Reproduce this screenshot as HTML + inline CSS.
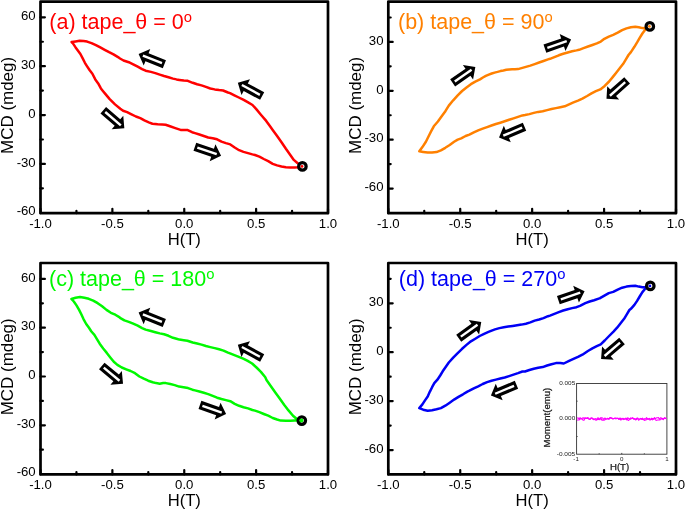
<!DOCTYPE html><html><head><meta charset="utf-8"><style>html,body{margin:0;padding:0;background:#fff;width:685px;height:510px;overflow:hidden}svg{display:block;will-change:transform}text{font-family:"Liberation Sans",sans-serif}</style></head><body>
<svg width="685" height="510" viewBox="0 0 685 510">
<rect width="685" height="510" fill="#fff"/>
<path d="M302.2 166.3 L297.4 163 L293.8 159.9 L290.3 155 L285.9 148.8 L281.5 142.2 L277.1 136 L272.7 129.9 L269.7 125.7 L266.2 120.9 L260.9 114.7 L256.5 109.4 L252.5 105 L247.7 102.2 L243.2 99.7 L238.8 97.5 L234.4 95.3 L230 93.1 L228 92.5 L223.1 90.5 L219.1 90.1 L214.7 89.4 L210.3 88.5 L205.9 86.9 L201.5 85.4 L197.1 84.3 L192.7 82.8 L187.8 80.8 L183.8 80.6 L179.4 79.9 L176.5 79.4 L173 78.6 L168.5 77.2 L164.1 76 L159.7 74.6 L155.3 73.1 L150.9 71.9 L145.6 70.7 L142.1 69.1 L137.7 66.7 L133.2 64.3 L128.8 62.2 L123.5 60.5 L120 58.5 L118 57.1 L113.5 54.4 L109.1 52.2 L104.7 49.8 L100.3 47.4 L95.9 45.1 L91.5 43.1 L87.1 41.6 L83.5 41 L79.6 40.7 L75.6 41.4 L71.6 42.1 L72.9 43.4 L75.6 47.4 L78.2 50.9 L80.4 54 L82.7 58.4 L84.9 62.8 L87.1 66.3 L89.7 70.3 L92.4 73.8 L95.3 79.4 L98.2 83.4 L100.9 88.4 L103.1 91.2 L105.3 93.9 L109.7 99.1 L115 104.4 L120.3 108.8 L123.1 110.7 L127.1 112.1 L131.5 114.3 L135.9 116.5 L140.3 118.2 L144.4 120.4 L148.8 122.4 L152.4 123.7 L157.7 124.3 L162.1 124.6 L165.6 124.8 L170 126.3 L175.3 128.1 L180.6 129.9 L184.1 129.9 L187.7 130.1 L192.1 132.2 L195 133.1 L199.4 134.5 L203.8 136 L208.2 137.5 L212.7 138.2 L217.1 139.3 L221.5 141.6 L225.9 143.1 L230.3 144.4 L234.7 147.5 L239.1 150.2 L243.5 151.9 L248 153.1 L252.4 154.4 L255 155 L259.4 156.6 L263.8 159 L268.2 161.2 L272.7 163.8 L277.1 165.4 L281.5 166.5 L285.9 167.2 L290.3 167.4 L294.7 167.4 L298.2 167.2 L302.2 166.3" fill="none" stroke="#ff0000" stroke-width="2.5" stroke-linejoin="round" stroke-linecap="round"/>
<path d="M40.5 213.2V208.8M76.44 213.2V210.8M112.38 213.2V208.8M148.31 213.2V210.8M184.25 213.2V208.8M220.19 213.2V210.8M256.12 213.2V208.8M292.06 213.2V210.8M328 213.2V208.8M40.5 188.37H42.9M40.5 163.93H44.9M40.5 139.49H42.9M40.5 115.05H44.9M40.5 90.61H42.9M40.5 66.17H44.9M40.5 41.73H42.9M40.5 17.29H44.9" stroke="#000" stroke-width="2.2" stroke-linecap="round" fill="none"/>
<rect x="40.5" y="1.6" width="287.5" height="211.6" fill="none" stroke="#000" stroke-width="2.7" stroke-linejoin="round"/>
<text x="40.5" y="228.1" font-size="13.2" text-anchor="middle">-1.0</text>
<text x="112.38" y="228.1" font-size="13.2" text-anchor="middle">-0.5</text>
<text x="184.25" y="228.1" font-size="13.2" text-anchor="middle">0.0</text>
<text x="256.12" y="228.1" font-size="13.2" text-anchor="middle">0.5</text>
<text x="328" y="228.1" font-size="13.2" text-anchor="middle">1.0</text>
<text x="35.7" y="214.71" font-size="13.2" text-anchor="end">-60</text>
<text x="35.7" y="166.63" font-size="13.2" text-anchor="end">-30</text>
<text x="35.7" y="117.75" font-size="13.2" text-anchor="end">0</text>
<text x="35.7" y="68.87" font-size="13.2" text-anchor="end">30</text>
<text x="35.7" y="19.99" font-size="13.2" text-anchor="end">60</text>
<text x="184.25" y="244.65" font-size="16.6" text-anchor="middle">H(T)</text>
<text transform="translate(12.9 105.4) rotate(-90)" font-size="16.4" text-anchor="middle" textLength="97" lengthAdjust="spacingAndGlyphs">MCD (mdeg)</text>
<circle cx="302.4" cy="166.4" r="3.75" fill="#fff" stroke="#000" stroke-width="3.2"/>
<circle cx="302" cy="166.4" r="1.4" fill="#ff0000"/>
<text x="49.3" y="29.1" font-size="21.5" fill="#ff0000">(a) tape_θ = 0<tspan font-size="14.8" dy="-7.0">o</tspan></text>
<path d="M649.9 26.5 L645 28.2 L642.4 28.1 L638.8 27.2 L635.3 26.7 L630.9 27.2 L626.5 28.4 L622.1 30.2 L617.7 32.7 L613.2 34.9 L608.8 36.6 L604.4 38.8 L600.8 41.6 L596.8 43.4 L592.4 45 L588 46.5 L583.5 48.1 L579.1 49.8 L576.5 50.4 L572.1 51.3 L567.7 52.5 L563.2 53.8 L558.8 55.3 L554.4 57.1 L550 58.8 L548 59.4 L543.5 61 L539.1 62.5 L534.7 64.1 L530.3 65.6 L525.9 66.9 L521.5 68.1 L518 69.1 L515 69.2 L512.1 69.3 L509.2 69.5 L506.3 69.8 L503.4 70.5 L500.4 71.1 L497.5 71.9 L494.6 72.6 L491.7 73.5 L488.8 74.6 L485.8 75.9 L482.9 77.5 L480 79.4 L475.3 81.6 L470.9 84.2 L466.5 87.5 L462.1 91 L457.7 95.4 L453.2 100.3 L448.8 105.6 L446.3 109.6 L445 111.8 L441.5 116.6 L437.9 121.5 L433.8 126.3 L431.2 131.2 L428.5 136.5 L425.9 141.8 L422.4 147.1 L419.3 151.3 L423.2 151.9 L427.7 152.5 L432.1 152.5 L436.5 152.1 L440.9 150.4 L445.3 147.8 L449.7 145 L454.1 141.8 L457.7 139.6 L461.2 138.4 L465.6 136 L469.4 134.6 L473.8 132.4 L478.2 130.4 L482.7 128.7 L487.1 127.1 L491.5 125.5 L495.9 124 L500.3 122.7 L504.7 121.3 L509.1 119.8 L513.5 118.4 L518 116.9 L522.4 115.4 L525 115 L529.4 114.1 L533.8 112.9 L538.2 111.9 L542.7 111.2 L547.1 110.1 L551.5 109 L555.9 108.1 L560.3 107.2 L564.7 106.3 L569.1 104.3 L573.5 102.4 L578 100.6 L582.4 98.6 L587.1 96 L591.5 93.4 L595.9 91.2 L600.3 89.4 L604.7 85.9 L609.1 81.5 L612.7 77.1 L616.2 72.7 L619.7 68.2 L623.2 63.8 L625.9 59.4 L628.5 55 L630.9 52.1 L634.4 46.8 L637.1 42.4 L639.7 37.9 L642.4 33.5 L645 30 L649.9 26.5" fill="none" stroke="#ff8000" stroke-width="2.5" stroke-linejoin="round" stroke-linecap="round"/>
<path d="M388.3 213.2V208.8M424.26 213.2V210.8M460.23 213.2V208.8M496.19 213.2V210.8M532.15 213.2V208.8M568.11 213.2V210.8M604.08 213.2V208.8M640.04 213.2V210.8M676 213.2V208.8M388.3 188.54H392.7M388.3 164.11H390.7M388.3 139.67H392.7M388.3 115.23H390.7M388.3 90.8H392.7M388.3 66.36H390.7M388.3 41.93H392.7M388.3 17.49H390.7" stroke="#000" stroke-width="2.2" stroke-linecap="round" fill="none"/>
<rect x="388.3" y="1.6" width="287.7" height="211.6" fill="none" stroke="#000" stroke-width="2.7" stroke-linejoin="round"/>
<text x="388.3" y="228.1" font-size="13.2" text-anchor="middle">-1.0</text>
<text x="460.23" y="228.1" font-size="13.2" text-anchor="middle">-0.5</text>
<text x="532.15" y="228.1" font-size="13.2" text-anchor="middle">0.0</text>
<text x="604.08" y="228.1" font-size="13.2" text-anchor="middle">0.5</text>
<text x="676" y="228.1" font-size="13.2" text-anchor="middle">1.0</text>
<text x="383.5" y="191.24" font-size="13.2" text-anchor="end">-60</text>
<text x="383.5" y="142.37" font-size="13.2" text-anchor="end">-30</text>
<text x="383.5" y="93.5" font-size="13.2" text-anchor="end">0</text>
<text x="383.5" y="44.63" font-size="13.2" text-anchor="end">30</text>
<text x="532.15" y="244.65" font-size="16.6" text-anchor="middle">H(T)</text>
<text transform="translate(360.7 105.4) rotate(-90)" font-size="16.4" text-anchor="middle" textLength="97" lengthAdjust="spacingAndGlyphs">MCD (mdeg)</text>
<circle cx="649.8" cy="26.4" r="3.75" fill="#fff" stroke="#000" stroke-width="3.2"/>
<circle cx="649.4" cy="26.4" r="1.4" fill="#ff8000"/>
<text x="398" y="28.9" font-size="21.5" fill="#ff8000">(b) tape_θ = 90<tspan font-size="14.8" dy="-7.0">o</tspan></text>
<path d="M301.8 420.6 L296.5 418.8 L293 415.7 L288.5 410.4 L284.1 404.7 L279.7 398.5 L275.3 392.4 L270.9 386.2 L266.5 380 L265.3 377.2 L260.9 371.9 L256.5 367.5 L252.1 363.5 L247.7 360.9 L243.2 358.7 L238.8 356.9 L234.4 355.2 L230 353.4 L228 352.6 L223.5 350.6 L219.1 349.3 L214.7 348.1 L210.3 347.1 L205.9 346 L201.5 344.6 L197.1 343.5 L192.7 342.5 L187.4 340.7 L183.8 340.2 L179.4 339.6 L176.5 338.7 L173 337.8 L168.5 335.8 L164.1 334.3 L159.7 333.4 L155.3 332.2 L150.9 331 L145.6 329.6 L142.1 328.1 L137.7 325.7 L133.2 323.7 L128.8 321.9 L124.4 320.4 L120 317.8 L119.7 317.4 L115.3 314.7 L110.9 312.8 L106.5 309.9 L102.1 306.3 L97.7 303.2 L93.2 300.6 L88.8 298.8 L84.4 297.8 L80 297.1 L75.6 297.8 L71.4 299 L73.8 301.5 L76.5 305.4 L79.1 309.9 L81.3 314.3 L83.5 319.1 L86.2 324 L88.8 327.5 L91.4 331.5 L94.4 334.9 L97.1 339.3 L99.7 343.7 L103.2 348.5 L106.8 352.9 L110.3 357.4 L113.8 361.8 L117.4 364.9 L121.8 367.5 L126.2 369.3 L130.6 371 L135 373.2 L139.4 376.5 L143.8 378.7 L148.2 380.7 L152.7 382.2 L156.2 383.1 L159.7 383.7 L163.2 383.1 L165.9 383.1 L170.3 384 L174.7 385.1 L179.1 386.6 L183.5 387.2 L188 388.1 L192.4 389.7 L195 390.4 L199.4 391.5 L203.8 392.8 L208.2 394.1 L212.7 395.9 L217.1 397.7 L221.5 399 L225.9 400.1 L230.3 401.2 L234.7 403.8 L239.1 405.8 L243.5 407.2 L248 408.4 L252.4 410 L255 410.6 L259.4 412.2 L263.8 414 L268.2 415.7 L272.7 418 L277.1 419.5 L280.6 420.6 L285.9 420.8 L290.3 420.8 L294.7 420.4 L297.4 420.2 L301.8 420.6" fill="none" stroke="#00f800" stroke-width="2.5" stroke-linejoin="round" stroke-linecap="round"/>
<path d="M40.5 474.4V470M76.44 474.4V472M112.38 474.4V470M148.31 474.4V472M184.25 474.4V470M220.19 474.4V472M256.12 474.4V470M292.06 474.4V472M328 474.4V470M40.5 449.7H42.9M40.5 425.3H44.9M40.5 400.9H42.9M40.5 376.5H44.9M40.5 352.1H42.9M40.5 327.7H44.9M40.5 303.3H42.9M40.5 278.9H44.9" stroke="#000" stroke-width="2.2" stroke-linecap="round" fill="none"/>
<rect x="40.5" y="263" width="287.5" height="211.4" fill="none" stroke="#000" stroke-width="2.7" stroke-linejoin="round"/>
<text x="40.5" y="489.3" font-size="13.2" text-anchor="middle">-1.0</text>
<text x="112.38" y="489.3" font-size="13.2" text-anchor="middle">-0.5</text>
<text x="184.25" y="489.3" font-size="13.2" text-anchor="middle">0.0</text>
<text x="256.12" y="489.3" font-size="13.2" text-anchor="middle">0.5</text>
<text x="328" y="489.3" font-size="13.2" text-anchor="middle">1.0</text>
<text x="35.7" y="476" font-size="13.2" text-anchor="end">-60</text>
<text x="35.7" y="428" font-size="13.2" text-anchor="end">-30</text>
<text x="35.7" y="379.2" font-size="13.2" text-anchor="end">0</text>
<text x="35.7" y="330.4" font-size="13.2" text-anchor="end">30</text>
<text x="35.7" y="281.6" font-size="13.2" text-anchor="end">60</text>
<text x="184.25" y="505.85" font-size="16.6" text-anchor="middle">H(T)</text>
<text transform="translate(12.9 366.8) rotate(-90)" font-size="16.4" text-anchor="middle" textLength="97" lengthAdjust="spacingAndGlyphs">MCD (mdeg)</text>
<circle cx="301.8" cy="420.6" r="3.75" fill="#fff" stroke="#000" stroke-width="3.2"/>
<circle cx="301.4" cy="420.6" r="2.0" fill="#00f800"/>
<text x="49" y="285.6" font-size="21.5" fill="#00f800">(c) tape_θ = 180<tspan font-size="14.8" dy="-7.0">o</tspan></text>
<path d="M650.3 285.9 L645 287.2 L642.4 287.2 L638.8 286.6 L635.3 285.7 L630.9 286.1 L626.5 286.6 L622.1 287.7 L617.7 289.6 L613.2 291.9 L608.8 293.1 L604.4 295.6 L600 298.2 L599.4 298.4 L594.1 300.2 L589.7 301.5 L585.3 303.2 L580 305.9 L576.5 307.2 L572.1 308.1 L567.7 309.2 L563.2 310.5 L558.8 312.1 L554.4 313.8 L550 315.6 L548 316.2 L543.5 318.1 L539.1 319.5 L534.7 320.6 L530.3 322.4 L525.9 323.7 L521.5 324.6 L517.1 325.2 L512.7 325.9 L508.2 326.6 L503.8 327.2 L499.4 328.1 L495 329.4 L493 330.1 L488.5 331.9 L484.1 333.8 L479.7 336 L475.3 338.7 L470.9 341.3 L466.5 344.9 L462.1 348.8 L457.7 353.1 L453.2 357.7 L448.8 362.5 L445.5 367.2 L442.7 371.3 L440.2 375.5 L437.4 379.7 L434.3 383.2 L432.1 387.2 L429.9 391.6 L427.7 396.5 L425 400.4 L422.4 404.4 L419.3 408.1 L423.2 409.7 L427.7 410.8 L432.1 410.2 L436.5 409.3 L440.9 408.1 L445.3 405.7 L449.7 402.7 L454.1 399.6 L458.5 396.9 L463 394.3 L467.4 391.6 L469.4 390.7 L473.8 388.4 L478.2 386.3 L482.7 384 L487.1 382.1 L491.5 380.7 L495.9 379.6 L500.3 378.5 L504.7 377.5 L509.1 376.1 L513.5 374.6 L518 373.1 L522.4 371.5 L525 371.5 L529.4 370 L533.8 368.7 L538.2 367.8 L542.7 367.1 L547.1 365.5 L551.5 364.2 L555.9 363.1 L560.3 363.1 L563.8 363.5 L569.1 360.9 L573.5 358.9 L578 356.9 L582.4 354.7 L587.9 351 L592.4 348.4 L596.8 346.2 L600.7 344.4 L604.7 340.5 L609.1 336 L613.5 331.6 L617.1 327.7 L620.6 323.2 L624.1 318.8 L626.8 314.4 L629.4 310 L630.9 308.8 L634.4 304.9 L637.1 300.9 L639.7 296.5 L642.4 292.1 L645 289 L650.3 285.9" fill="none" stroke="#0000f5" stroke-width="2.5" stroke-linejoin="round" stroke-linecap="round"/>
<path d="M388.3 474.4V470M424.26 474.4V472M460.23 474.4V470M496.19 474.4V472M532.15 474.4V470M568.11 474.4V472M604.08 474.4V470M640.04 474.4V472M676 474.4V470M388.3 450.03H392.7M388.3 425.57H390.7M388.3 401.12H392.7M388.3 376.66H390.7M388.3 352.2H392.7M388.3 327.74H390.7M388.3 303.28H392.7M388.3 278.83H390.7" stroke="#000" stroke-width="2.2" stroke-linecap="round" fill="none"/>
<rect x="388.3" y="263" width="287.7" height="211.4" fill="none" stroke="#000" stroke-width="2.7" stroke-linejoin="round"/>
<text x="388.3" y="489.3" font-size="13.2" text-anchor="middle">-1.0</text>
<text x="460.23" y="489.3" font-size="13.2" text-anchor="middle">-0.5</text>
<text x="532.15" y="489.3" font-size="13.2" text-anchor="middle">0.0</text>
<text x="604.08" y="489.3" font-size="13.2" text-anchor="middle">0.5</text>
<text x="676" y="489.3" font-size="13.2" text-anchor="middle">1.0</text>
<text x="383.5" y="452.73" font-size="13.2" text-anchor="end">-60</text>
<text x="383.5" y="403.81" font-size="13.2" text-anchor="end">-30</text>
<text x="383.5" y="354.9" font-size="13.2" text-anchor="end">0</text>
<text x="383.5" y="305.98" font-size="13.2" text-anchor="end">30</text>
<text x="532.15" y="505.85" font-size="16.6" text-anchor="middle">H(T)</text>
<text transform="translate(360.7 366.8) rotate(-90)" font-size="16.4" text-anchor="middle" textLength="97" lengthAdjust="spacingAndGlyphs">MCD (mdeg)</text>
<circle cx="650.3" cy="285.9" r="3.75" fill="#fff" stroke="#000" stroke-width="3.2"/>
<circle cx="649.9" cy="285.9" r="1.4" fill="#0000f5"/>
<text x="398.8" y="285.6" font-size="21.5" fill="#0000f5">(d) tape_θ = 270<tspan font-size="14.8" dy="-7.0">o</tspan></text>
<rect x="576.6" y="383.5" width="90.3" height="70.7" fill="#fff" stroke="#333" stroke-width="0.9"/>
<path d="M599.17 454.2V453.3M621.75 454.2V452.9M644.33 454.2V453.3M576.6 436.52H577.6M576.6 401.18H577.6" stroke="#333" stroke-width="0.9" fill="none"/>
<path d="M577.1 418.28 L578.09 417.86 L579.08 419.06 L580.08 417.67 L581.07 418.79 L582.06 418.38 L583.05 417.64 L584.05 418.72 L585.04 417.59 L586.03 418.54 L587.02 417.67 L588.01 417.72 L589.01 418.52 L590 419.48 L590.99 417.8 L591.98 418.04 L592.98 419.01 L593.97 419.77 L594.96 418.89 L595.95 418.45 L596.94 419.84 L597.94 417.61 L598.93 419.56 L599.92 418.2 L600.91 417.85 L601.91 417.78 L602.9 418.24 L603.89 419.46 L604.88 417.93 L605.87 418.9 L606.87 419.03 L607.86 418.39 L608.85 418.81 L609.84 417.65 L610.84 417.64 L611.83 417.99 L612.82 419.13 L613.81 418.53 L614.8 418.25 L615.8 418.91 L616.79 418.59 L617.78 418.22 L618.77 419.41 L619.77 419.18 L620.76 418.09 L621.75 418.88 L622.74 418.76 L623.73 419.6 L624.73 419.25 L625.72 418.19 L626.71 419.85 L627.7 417.78 L628.7 418.5 L629.69 419.32 L630.68 417.86 L631.67 418.67 L632.66 417.59 L633.66 419.1 L634.65 419.33 L635.64 418.88 L636.63 419.6 L637.63 418.25 L638.62 419.17 L639.61 418.93 L640.6 418.89 L641.59 418.59 L642.59 419.52 L643.58 419.77 L644.57 418.64 L645.56 419.09 L646.56 417.65 L647.55 419.18 L648.54 419.05 L649.53 419.88 L650.52 419.47 L651.52 418.18 L652.51 418.43 L653.5 419.1 L654.49 417.55 L655.49 418.61 L656.48 417.9 L657.47 417.78 L658.46 417.64 L659.45 419.34 L660.45 417.81 L661.44 418.09 L662.43 418.44 L663.42 419.59 L664.42 417.69 L665.41 418.58 L666.4 418.82" fill="none" stroke="#ff00ff" stroke-width="1.1" stroke-linejoin="round"/>
<path d="M577.1 420.12 L578.09 419.97 L579.08 420.07 L580.08 418.67 L581.07 419 L582.06 418.86 L583.05 420.12 L584.05 420.3 L585.04 418.36 L586.03 418.42 L587.02 418.56 L588.01 418.56 L589.01 419.16 L590 419.41 L590.99 418.63 L591.98 418.01 L592.98 419.01 L593.97 418.89 L594.96 419.36 L595.95 420.29 L596.94 419.66 L597.94 419.24 L598.93 419.48 L599.92 419.62 L600.91 418.13 L601.91 420.16 L602.9 419.87 L603.89 420.1 L604.88 419.91 L605.87 418.94 L606.87 418.96 L607.86 418.25 L608.85 419.52 L609.84 418.15 L610.84 418.16 L611.83 418.5 L612.82 418.39 L613.81 418.82 L614.8 418.13 L615.8 418 L616.79 418.36 L617.78 418.24 L618.77 418.87 L619.77 418.06 L620.76 420.1 L621.75 419.47 L622.74 418.36 L623.73 418.61 L624.73 418.83 L625.72 418.87 L626.71 418.29 L627.7 420.04 L628.7 420.38 L629.69 419.12 L630.68 419.16 L631.67 418.21 L632.66 418.25 L633.66 418.82 L634.65 418.64 L635.64 419.99 L636.63 418.39 L637.63 418.06 L638.62 420.28 L639.61 419.27 L640.6 418.35 L641.59 419.3 L642.59 418.06 L643.58 419.27 L644.57 420.35 L645.56 420.07 L646.56 419.67 L647.55 418.63 L648.54 418.88 L649.53 418.4 L650.52 419.85 L651.52 419.28 L652.51 419.87 L653.5 418.79 L654.49 418.54 L655.49 419.95 L656.48 420.36 L657.47 420.05 L658.46 419.93 L659.45 419.96 L660.45 419.78 L661.44 418.54 L662.43 419.24 L663.42 418.85 L664.42 418.07 L665.41 418.07 L666.4 418.67" fill="none" stroke="#ff00ff" stroke-width="1.1" stroke-linejoin="round"/>
<text x="575.2" y="385.1" font-size="6.2" fill="#222" text-anchor="end" textLength="16" lengthAdjust="spacingAndGlyphs">0.005</text>
<text x="575.2" y="420.45" font-size="6.2" fill="#222" text-anchor="end" textLength="16" lengthAdjust="spacingAndGlyphs">0.000</text>
<text x="575.2" y="455.8" font-size="6.2" fill="#222" text-anchor="end" textLength="18.4" lengthAdjust="spacingAndGlyphs">-0.005</text>
<text x="576.1" y="461.2" font-size="6.2" fill="#222" text-anchor="middle">-1</text>
<text x="621.75" y="461.2" font-size="6.2" fill="#222" text-anchor="middle">0</text>
<text x="666.9" y="461.2" font-size="6.2" fill="#222" text-anchor="middle">1</text>
<text x="619.6" y="469.7" font-size="9.6" fill="#1a1a1a" stroke="#1a1a1a" stroke-width="0.25" text-anchor="middle">H(T)</text>
<text transform="translate(549.6 417.6) rotate(-90)" font-size="9.6" fill="#1a1a1a" stroke="#1a1a1a" stroke-width="0.25" text-anchor="middle">Moment(emu)</text>
<g transform="translate(138.9 54.1) rotate(21.56)"><polygon points="-0.3,0 8.7,-8.9 8.7,-4.3 27.4,-4.3 27.4,4.3 8.7,4.3 8.7,8.9" fill="#000"/><polygon points="4.3,-1.2 24.8,-1.2 24.8,1.2 4.3,1.2" fill="#fff"/></g>
<g transform="translate(238.1 83) rotate(28.54)"><polygon points="-0.3,0 8.7,-8.9 8.7,-4.3 27.4,-4.3 27.4,4.3 8.7,4.3 8.7,8.9" fill="#000"/><polygon points="4.3,-1.2 24.8,-1.2 24.8,1.2 4.3,1.2" fill="#fff"/></g>
<g transform="translate(124.1 128.1) rotate(-139.5)"><polygon points="-0.3,0 8.7,-8.9 8.7,-4.3 27.4,-4.3 27.4,4.3 8.7,4.3 8.7,8.9" fill="#000"/><polygon points="4.3,-1.2 24.8,-1.2 24.8,1.2 4.3,1.2" fill="#fff"/></g>
<g transform="translate(220.8 155.6) rotate(-161.2)"><polygon points="-0.3,0 8.7,-8.9 8.7,-4.3 27.4,-4.3 27.4,4.3 8.7,4.3 8.7,8.9" fill="#000"/><polygon points="4.3,-1.2 24.8,-1.2 24.8,1.2 4.3,1.2" fill="#fff"/></g>
<g transform="translate(475.1 67.2) rotate(145.05)"><polygon points="-0.3,0 8.7,-8.9 8.7,-4.3 27.4,-4.3 27.4,4.3 8.7,4.3 8.7,8.9" fill="#000"/><polygon points="4.3,-1.2 24.8,-1.2 24.8,1.2 4.3,1.2" fill="#fff"/></g>
<g transform="translate(570.8 39.7) rotate(161)"><polygon points="-0.3,0 8.7,-8.9 8.7,-4.3 27.4,-4.3 27.4,4.3 8.7,4.3 8.7,8.9" fill="#000"/><polygon points="4.3,-1.2 24.8,-1.2 24.8,1.2 4.3,1.2" fill="#fff"/></g>
<g transform="translate(606.7 98.6) rotate(-41.76)"><polygon points="-0.3,0 8.7,-8.9 8.7,-4.3 27.4,-4.3 27.4,4.3 8.7,4.3 8.7,8.9" fill="#000"/><polygon points="4.3,-1.2 24.8,-1.2 24.8,1.2 4.3,1.2" fill="#fff"/></g>
<g transform="translate(499.3 137.4) rotate(-22.98)"><polygon points="-0.3,0 8.7,-8.9 8.7,-4.3 27.4,-4.3 27.4,4.3 8.7,4.3 8.7,8.9" fill="#000"/><polygon points="4.3,-1.2 24.8,-1.2 24.8,1.2 4.3,1.2" fill="#fff"/></g>
<g transform="translate(138.9 312.7) rotate(21.96)"><polygon points="-0.3,0 8.7,-8.9 8.7,-4.3 27.4,-4.3 27.4,4.3 8.7,4.3 8.7,8.9" fill="#000"/><polygon points="4.3,-1.2 24.8,-1.2 24.8,1.2 4.3,1.2" fill="#fff"/></g>
<g transform="translate(238.1 344.9) rotate(28.54)"><polygon points="-0.3,0 8.7,-8.9 8.7,-4.3 27.4,-4.3 27.4,4.3 8.7,4.3 8.7,8.9" fill="#000"/><polygon points="4.3,-1.2 24.8,-1.2 24.8,1.2 4.3,1.2" fill="#fff"/></g>
<g transform="translate(122.8 383.5) rotate(-140.15)"><polygon points="-0.3,0 8.7,-8.9 8.7,-4.3 27.4,-4.3 27.4,4.3 8.7,4.3 8.7,8.9" fill="#000"/><polygon points="4.3,-1.2 24.8,-1.2 24.8,1.2 4.3,1.2" fill="#fff"/></g>
<g transform="translate(225.8 414) rotate(-160.61)"><polygon points="-0.3,0 8.7,-8.9 8.7,-4.3 27.4,-4.3 27.4,4.3 8.7,4.3 8.7,8.9" fill="#000"/><polygon points="4.3,-1.2 24.8,-1.2 24.8,1.2 4.3,1.2" fill="#fff"/></g>
<g transform="translate(481 322.2) rotate(144.41)"><polygon points="-0.3,0 8.7,-8.9 8.7,-4.3 27.4,-4.3 27.4,4.3 8.7,4.3 8.7,8.9" fill="#000"/><polygon points="4.3,-1.2 24.8,-1.2 24.8,1.2 4.3,1.2" fill="#fff"/></g>
<g transform="translate(584.3 291.3) rotate(161.23)"><polygon points="-0.3,0 8.7,-8.9 8.7,-4.3 27.4,-4.3 27.4,4.3 8.7,4.3 8.7,8.9" fill="#000"/><polygon points="4.3,-1.2 24.8,-1.2 24.8,1.2 4.3,1.2" fill="#fff"/></g>
<g transform="translate(601.3 358.8) rotate(-40.83)"><polygon points="-0.3,0 8.7,-8.9 8.7,-4.3 27.4,-4.3 27.4,4.3 8.7,4.3 8.7,8.9" fill="#000"/><polygon points="4.3,-1.2 24.8,-1.2 24.8,1.2 4.3,1.2" fill="#fff"/></g>
<g transform="translate(491.2 395.4) rotate(-22.78)"><polygon points="-0.3,0 8.7,-8.9 8.7,-4.3 27.4,-4.3 27.4,4.3 8.7,4.3 8.7,8.9" fill="#000"/><polygon points="4.3,-1.2 24.8,-1.2 24.8,1.2 4.3,1.2" fill="#fff"/></g>
</svg></body></html>
